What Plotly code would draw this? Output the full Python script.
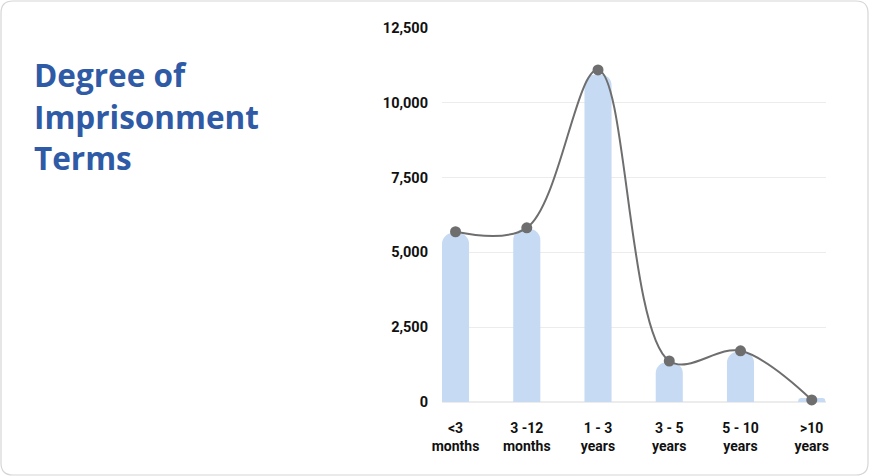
import plotly.graph_objects as go

# Imprisonment term buckets and counts
terms = ['<3<br>months', '3 -12<br>months', '1 - 3<br>years', '3 - 5<br>years', '5 - 10<br>years', '>10<br>years']
bar_counts = [5650, 5780, 10950, 1330, 1680, 130]
line_counts = [5690, 5820, 11100, 1370, 1710, 70]
y_ticks = [0, 2500, 5000, 7500, 10000, 12500]
title_lines = ['Degree of', 'Imprisonment', 'Terms']

W, H = 869, 476
ml, mr, mt, mb = 442, 43, 28, 74
pw, ph = W - ml - mr, H - mt - mb

fig = go.Figure()

fig.add_trace(go.Bar(
    x=list(range(len(terms))),
    y=bar_counts,
    marker=dict(color='#c6daf4', cornerradius=11, line=dict(width=0)),
    width=0.38,
    hoverinfo='skip',
))

fig.add_trace(go.Scatter(
    x=list(range(len(terms))),
    y=line_counts,
    mode='lines+markers',
    line=dict(color='#6e6e6e', width=2, shape='spline', smoothing=1),
    marker=dict(color='#6e6e6e', size=11),
    cliponaxis=False,
))

# pixel -> paper helpers, for the card border and the title
def px_x(p):
    return (p - ml) / pw

def px_y(p):
    return (H - mb - p) / ph

# rounded card border
x0, x1, y0, y1, r = 1, W - 1, 1, H - 1, 12
pts = [
    ('M', x0 + r, y0), ('L', x1 - r, y0), ('Q', x1, y0, x1, y0 + r),
    ('L', x1, y1 - r), ('Q', x1, y1, x1 - r, y1), ('L', x0 + r, y1),
    ('Q', x0, y1, x0, y1 - r), ('L', x0, y0 + r), ('Q', x0, y0, x0 + r, y0),
]
path = ''
for p in pts:
    cmd, coords = p[0], p[1:]
    xy = [f'{px_x(coords[k])},{px_y(coords[k + 1])}' for k in range(0, len(coords), 2)]
    path += cmd + ' '.join(xy) + ' '
fig.add_shape(type='path', path=path + 'Z', xref='paper', yref='paper',
              line=dict(color='#d6d6d6', width=1.2), layer='below')

# title as three lines on the left
for i, t in enumerate(title_lines):
    fig.add_annotation(
        text=t, xref='paper', yref='paper',
        x=px_x(32), y=px_y(75 + 41 * i),
        xanchor='left', yanchor='middle', showarrow=False,
        font=dict(family='Open Sans', size=31.5, color='#2f5aa6', weight=700),
    )

fig.update_layout(
    width=W, height=H,
    margin=dict(l=ml, r=mr, t=mt, b=mb),
    plot_bgcolor='white', paper_bgcolor='white',
    showlegend=False,
    bargap=0.6,
    font=dict(family='Roboto', color='#111111'),
)

fig.update_xaxes(
    tickmode='array', tickvals=list(range(len(terms))), ticktext=['<b>' + t + '</b>' for t in terms],
    range=[-0.19, 5.2], showgrid=False, zeroline=False, showline=False,
    tickfont=dict(size=14, family='Roboto', color='#111111'), ticks='', ticklabelstandoff=16,
)
fig.update_yaxes(
    range=[0, 12500], tickvals=y_ticks, ticktext=['<b>' + f'{v:,}' + '</b>' for v in y_ticks],
    showgrid=True, gridcolor='#ececec', gridwidth=1, zeroline=True, zerolinecolor='#ececec',
    showline=False, ticks='', tickfont=dict(size=14.5, family='Roboto', color='#111111'),
    ticklabelstandoff=13,
)

# drop the default page margin so the figure sits at the window corner
fig.write_html("out.html", config={'displayModeBar': False},
               post_script="document.body.style.margin='0';")
